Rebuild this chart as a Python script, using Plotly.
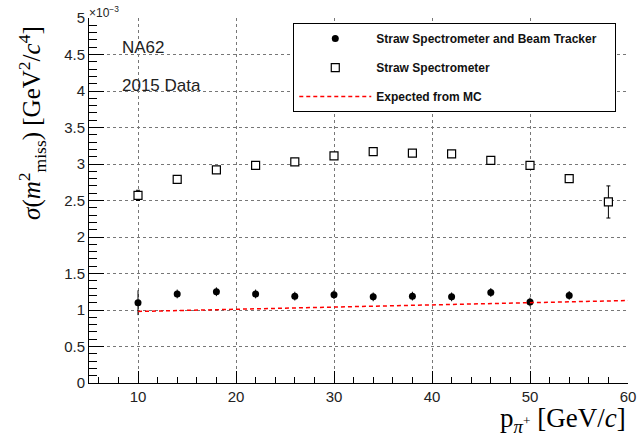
import plotly.graph_objects as go

# Data (sigma values in units of 1e-3 GeV^2/c^4)
p_full = [10, 14, 18, 22, 26, 30, 34, 38, 42, 46, 50, 54]
sig_full = [1.10, 1.22, 1.25, 1.22, 1.19, 1.21, 1.18, 1.19, 1.18, 1.24, 1.11, 1.20]
err_full = [0.17, 0.06, 0.06, 0.06, 0.06, 0.06, 0.06, 0.06, 0.06, 0.06, 0.06, 0.06]

p_straw = [10, 14, 18, 22, 26, 30, 34, 38, 42, 46, 50, 54, 58]
sig_straw = [2.57, 2.79, 2.92, 2.98, 3.03, 3.11, 3.17, 3.15, 3.14, 3.05, 2.98, 2.80, 2.48]
err_straw = [0.07, 0.03, 0.03, 0.03, 0.03, 0.03, 0.03, 0.03, 0.03, 0.03, 0.03, 0.04, 0.22]

p_mc = [10, 20, 30, 40, 50, 60]
sig_mc = [0.98, 1.01, 1.04, 1.07, 1.10, 1.13]

y_ticks = [0, 0.5, 1, 1.5, 2, 2.5, 3, 3.5, 4, 4.5, 5]
y_ticklabels = ["0", "0.5", "1", "1.5", "2", "2.5", "3", "3.5", "4", "4.5", "5"]

fig = go.Figure()
fig.add_trace(go.Scatter(
    x=p_full, y=sig_full, mode="markers",
    name="<b>Straw Spectrometer and Beam Tracker</b>&nbsp;&nbsp;&nbsp;&nbsp;",
    legendgroup="a",
    marker=dict(symbol="circle", size=7, color="black"),
    error_y=dict(type="data", array=err_full, color="black", thickness=1, width=0),
))
fig.add_trace(go.Scatter(
    x=p_straw, y=sig_straw, mode="markers",
    name="<b>Straw Spectrometer</b>",
    legendgroup="b",
    marker=dict(symbol="square", size=8, color="white", line=dict(width=1.2, color="black")),
    error_y=dict(type="data", array=err_straw, color="black", thickness=1, width=2),
))
fig.add_trace(go.Scatter(
    x=p_mc, y=sig_mc, mode="lines",
    name="<b>Expected from MC</b>",
    legendgroup="c",
    line=dict(color="red", width=1.5, dash="4px,3px"),
))

fig.update_layout(
    width=640, height=445,
    margin=dict(l=89, r=12, t=18, b=62),
    paper_bgcolor="white", plot_bgcolor="white",
    font=dict(family="Liberation Sans, Arial", color="black"),
    showlegend=True,
    legend=dict(
        x=0.379, y=0.986, xanchor="left", yanchor="top",
        bordercolor="black", borderwidth=1, bgcolor="white",
        font=dict(size=12, family="Liberation Sans, Arial", color="#111"),
        tracegroupgap=10, itemwidth=72,
    ),
    xaxis=dict(
        range=[5, 60], showline=True, linecolor="black", linewidth=1,
        ticks="inside", ticklen=12, tickcolor="black",
        tickvals=[10, 20, 30, 40, 50, 60],
        tickfont=dict(size=15, color="#222"),
        showgrid=True, gridcolor="#777", griddash="dot", gridwidth=1,
        minor=dict(dtick=2, ticks="inside", ticklen=6, tickcolor="black", showgrid=False),
        zeroline=False, mirror=False, automargin=False,
    ),
    yaxis=dict(
        range=[0, 5], showline=True, linecolor="black", linewidth=1,
        ticks="inside", ticklen=15, tickcolor="black",
        tickvals=y_ticks, ticktext=y_ticklabels,
        tickfont=dict(size=15, color="#222"),
        showgrid=True, gridcolor="#777", griddash="dot", gridwidth=1,
        minor=dict(dtick=0.1, ticks="inside", ticklen=8, tickcolor="black", showgrid=False),
        zeroline=False, mirror=False, automargin=False,
    ),
    annotations=[
        dict(text="×10<sup>−3</sup>", xref="paper", yref="paper", x=0, y=1.0,
             xanchor="left", yanchor="bottom", showarrow=False,
             font=dict(size=12, color="#222"), xshift=-2, yshift=-4),
        dict(text="NA62", xref="paper", yref="paper", x=0.057, y=0.918,
             xanchor="left", yanchor="middle", showarrow=False,
             font=dict(size=17, color="#222")),
        dict(text="2015 Data", xref="paper", yref="paper", x=0.057, y=0.814,
             xanchor="left", yanchor="middle", showarrow=False,
             font=dict(size=17, color="#222")),
        dict(text="<i>σ</i>(<i>m</i><sup>2</sup><sub>miss</sub>) [GeV<sup>2</sup>/<i>c</i><sup>4</sup>]",
             xref="paper", yref="paper", x=-0.105, y=0.985, xanchor="center", yanchor="top",
             textangle=-90, showarrow=False,
             font=dict(size=25, family="Liberation Serif, Times New Roman", color="black")),
        dict(text="p<sub><i>π</i><sup>+</sup></sub> [GeV/<i>c</i>]",
             xref="paper", yref="paper", x=1.0, y=-0.048, xanchor="right", yanchor="top",
             showarrow=False,
             font=dict(size=27, family="Liberation Serif, Times New Roman", color="black")),
    ],
)

fig.write_html("out.html")
